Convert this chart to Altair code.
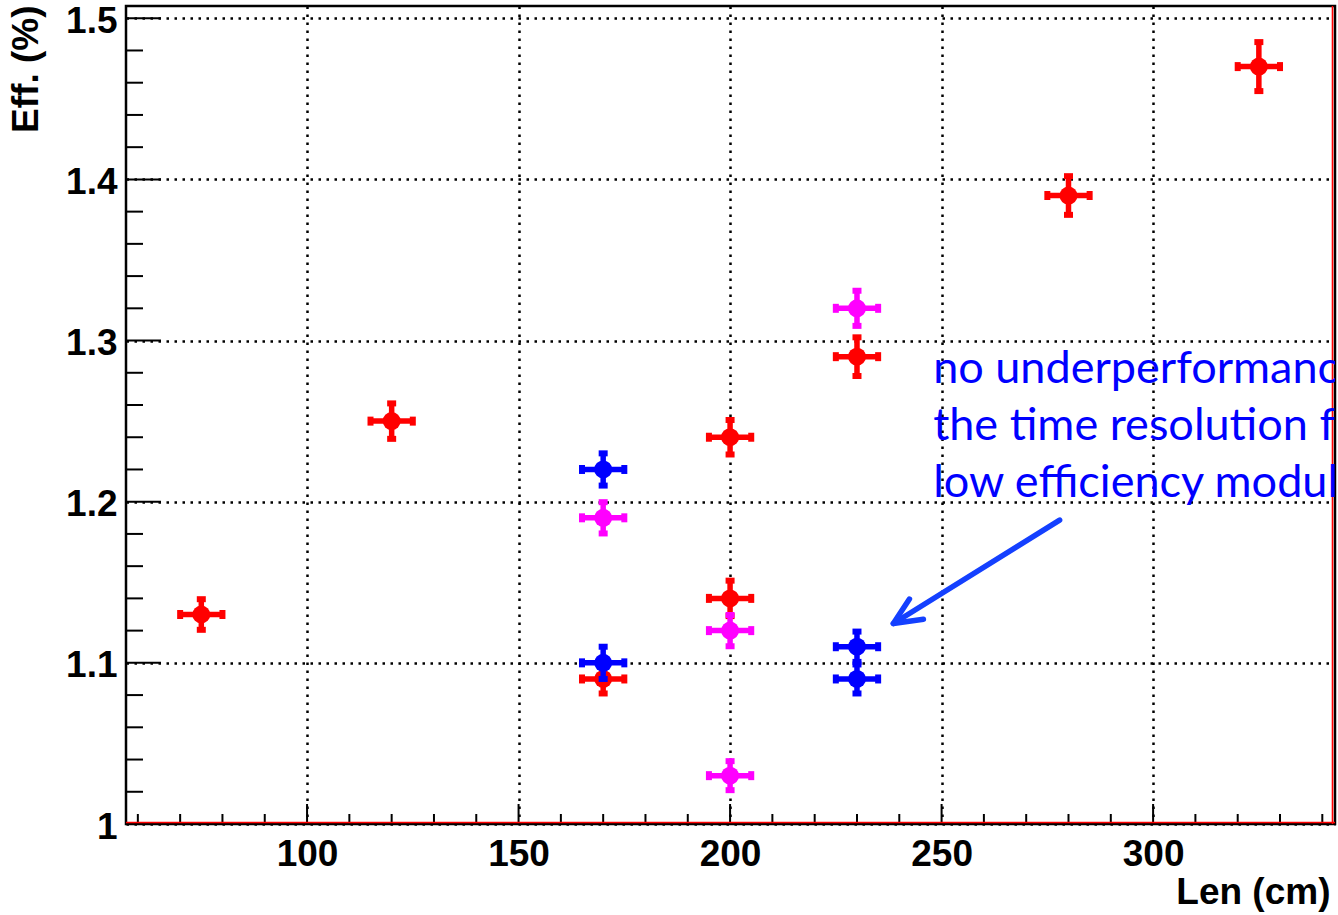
import altair as alt
import pandas as pd

# ---------------- data ----------------
red_x = [75, 120, 170, 200, 200, 230, 280, 325]
red_y = [1.13, 1.25, 1.09, 1.24, 1.14, 1.29, 1.39, 1.47]
red_ey = [0.0095, 0.011, 0.009, 0.0107, 0.011, 0.012, 0.012, 0.0152]

mag_x = [170, 200, 200, 230]
mag_y = [1.19, 1.12, 1.03, 1.32]
mag_ey = [0.0097, 0.0097, 0.009, 0.0109]

blue_x = [170, 170, 230, 230]
blue_y = [1.22, 1.10, 1.11, 1.09]
blue_ey = [0.010, 0.010, 0.0094, 0.009]

x_err = 5

x_major = [100, 150, 200, 250, 300]
x_minor = [60, 70, 80, 90, 110, 120, 130, 140, 160, 170, 180, 190, 210, 220, 230, 240,
           260, 270, 280, 290, 310, 320, 330, 340]
y_major = [1.0, 1.1, 1.2, 1.3, 1.4, 1.5]
y_minor = [1.02, 1.04, 1.06, 1.08, 1.12, 1.14, 1.16, 1.18, 1.22, 1.24, 1.26, 1.28,
           1.32, 1.34, 1.36, 1.38, 1.42, 1.44, 1.46, 1.48]

note_lines = ["no underperformance in", "the time resolution for", "low efficiency modules"]
note_x = [248.0, 248.0, 248.0]
note_y = [1.2734, 1.2382, 1.2030]

arrow_x = [277.9, 238.6, 242.4, 238.6, 245.7]
arrow_y = [1.1886, 1.1244, 1.1396, 1.1244, 1.1271]
arrow_part = ["shaft", "shaft", "head", "head", "head"]
arrow_order = [0, 1, 0, 1, 2]

X_DOMAIN = [57.2, 343.0]
Y_DOMAIN = [1.0, 1.5076]
W, H = 1209, 818

xs = alt.Scale(domain=X_DOMAIN, nice=False, zero=False)
ys = alt.Scale(domain=Y_DOMAIN, nice=False, zero=False)

FONT = "Liberation Sans"

xaxis = alt.Axis(
    values=x_major, format="d", title="Len (cm)",
    labelFont=FONT, labelFontWeight="bold", labelFontSize=37, labelColor="black",
    labelPadding=12, ticks=False, domain=False,
    grid=True, gridColor="black", gridDash=[2.5, 5.5], gridWidth=2.5, gridOpacity=1,
    titleFont=FONT, titleFontWeight="bold", titleFontSize=37, titleColor="black",
    titleX=1204, titleY=79, titleAlign="right", titleBaseline="alphabetic",
)
yaxis = alt.Axis(
    values=y_major, labelExpr="datum.value == 1 ? '1' : format(datum.value, '.1f')",
    title="Eff. (%)",
    labelFont=FONT, labelFontWeight="bold", labelFontSize=37, labelColor="black",
    labelPadding=9, labelOffset=3, ticks=False, domain=False,
    grid=True, gridColor="black", gridDash=[2.5, 5.5], gridWidth=2.5, gridOpacity=1,
    titleFont=FONT, titleFontWeight="bold", titleFontSize=37, titleColor="black",
    titleAngle=270, titleX=-100, titleY=-1, titleAlign="right", titleBaseline="middle",
)


def X(f):
    return alt.X(f + ":Q", scale=xs, axis=xaxis)


def Y(f):
    return alt.Y(f + ":Q", scale=ys, axis=yaxis)


# ---------------- inside ticks ----------------
def xticks(vals, length):
    return alt.Chart(pd.DataFrame({"v": vals})).mark_rule(color="black", strokeWidth=2).encode(
        x=X("v"), y=alt.value(H), y2=alt.value(H - length))


def yticks(vals, length):
    return alt.Chart(pd.DataFrame({"v": vals})).mark_rule(color="black", strokeWidth=2).encode(
        y=Y("v"), x=alt.value(0), x2=alt.value(length))


tick_layers = [xticks(x_minor, 10), xticks(x_major, 20), yticks(y_minor, 17), yticks(y_major, 35)]

# ---------------- red frame lines ----------------
one_df = pd.DataFrame({"x": [X_DOMAIN[0]], "y": [Y_DOMAIN[0]]})
red_frame_h = alt.Chart(one_df).mark_rule(color="#ff0000", strokeWidth=1.6).encode(
    x=alt.value(0), x2=alt.value(W), y=alt.value(H - 1.5))
red_frame_v = alt.Chart(one_df).mark_rule(color="#ff0000", strokeWidth=1.6).encode(
    x=alt.value(W - 2.5), y=alt.value(0), y2=alt.value(H))


# ---------------- series ----------------
def series(xv, yv, eyv, color):
    df = pd.DataFrame({"x": xv, "y": yv, "ey": eyv})
    df["xlo"] = df["x"] - x_err
    df["xhi"] = df["x"] + x_err
    df["ylo"] = df["y"] - df["ey"]
    df["yhi"] = df["y"] + df["ey"]
    base = alt.Chart(df)
    hbar = base.mark_rule(color=color, strokeWidth=5.5).encode(x=X("xlo"), x2="xhi:Q", y=Y("y"))
    vbar = base.mark_rule(color=color, strokeWidth=5.5).encode(x=X("x"), y=Y("ylo"), y2="yhi:Q")
    tick_v = dict(color=color, orient="vertical", size=9, thickness=6, opacity=1)
    tick_h = dict(color=color, orient="horizontal", size=9, thickness=6, opacity=1)
    capl = base.mark_tick(**tick_v).encode(x=X("xlo"), y=Y("y"))
    capr = base.mark_tick(**tick_v).encode(x=X("xhi"), y=Y("y"))
    capt = base.mark_tick(**tick_h).encode(x=X("x"), y=Y("yhi"))
    capb = base.mark_tick(**tick_h).encode(x=X("x"), y=Y("ylo"))
    dot = base.mark_circle(color=color, size=324, opacity=1).encode(x=X("x"), y=Y("y"))
    return [hbar, vbar, capl, capr, capt, capb, dot]


red_layers = series(red_x, red_y, red_ey, "#ff0000")
mag_layers = series(mag_x, mag_y, mag_ey, "#ff00ff")
blue_layers = series(blue_x, blue_y, blue_ey, "#0000ff")

# ---------------- annotation (clipped at the frame, as in the original) ----------------
note_df = pd.DataFrame({"t": note_lines, "x": note_x, "y": note_y})
note = alt.Chart(note_df).mark_text(
    font="Lato", fontSize=45, color="#0000ff", align="left", baseline="alphabetic", clip=True
).encode(x=X("x"), y=Y("y"), text="t:N")

arrow_df = pd.DataFrame({"x": arrow_x, "y": arrow_y, "part": arrow_part, "o": arrow_order})
arrow = alt.Chart(arrow_df).mark_line(
    color="#1440ff", strokeWidth=5.5, strokeCap="round", strokeJoin="round"
).encode(x=X("x"), y=Y("y"), detail="part:N", order="o:Q")

chart = alt.layer(
    *tick_layers, red_frame_h, red_frame_v,
    *red_layers, *mag_layers, *blue_layers, note, arrow
).properties(
    width=W, height=H,
    padding={"left": 126, "top": 6, "right": 3, "bottom": 91},
    autosize=alt.AutoSizeParams(type="none"),
    background="white",
).configure_view(stroke="black", strokeWidth=2.5)

chart.save("out.html", embed_options={"renderer": "svg", "actions": False})
